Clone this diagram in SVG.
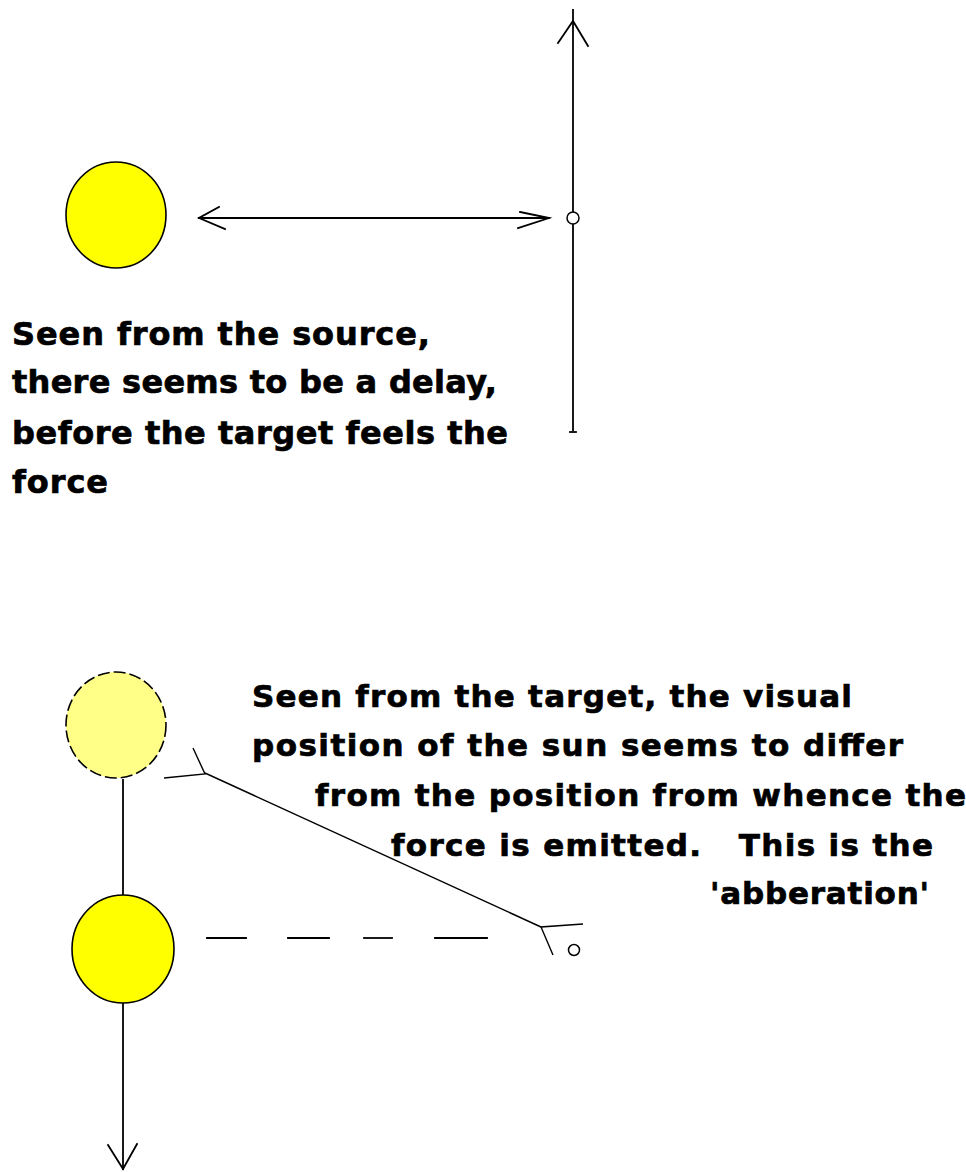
<svg xmlns="http://www.w3.org/2000/svg" width="966" height="1172" viewBox="0 0 966 1172">
  <style>
    .ln { fill: none; stroke: #000; stroke-width: 1.8; stroke-linecap: square; }
    .thin { fill: none; stroke: #000; stroke-width: 1.4; }
    .sun { fill: #FFFF00; stroke: #000; stroke-width: 1.6; }
    .ghost { fill: #FFFF88; stroke: #000; stroke-width: 1.6; stroke-dasharray: 12 4; }
    .pt { fill: #fff; stroke: #000; stroke-width: 1.5; }
    .t1 { font-family: "DejaVu Sans", "Liberation Sans", sans-serif; font-weight: bold; font-size: 32px; fill: #000; stroke: #000; stroke-width: 0.7; }
    .t2 { font-family: "DejaVu Sans", "Liberation Sans", sans-serif; font-weight: bold; font-size: 31px; fill: #000; stroke: #000; stroke-width: 0.7; white-space: pre; }
  </style>
  <rect width="966" height="1172" fill="#fff"/>

  <g id="connectors">
    <!-- top: target's vertical motion axis -->
    <line class="ln" x1="573" y1="10" x2="573" y2="430"/>
    <polyline class="ln" points="558,43 573,21 588,46"/>
    <line class="ln" x1="570" y1="432" x2="576" y2="432"/>
    <!-- top: double-headed horizontal -->
    <line class="ln" x1="199" y1="218" x2="549" y2="218"/>
    <polyline class="ln" points="219,207 199,218 225,229"/>
    <polyline class="ln" points="520,212 549,218 518,228"/>
    <!-- bottom: motion line between apparent and actual sun -->
    <line class="ln" x1="123" y1="780" x2="123" y2="895"/>
    <!-- bottom: sun motion arrow downward -->
    <line class="ln" x1="123" y1="1003" x2="123" y2="1169"/>
    <polyline class="ln" points="108,1145 123,1169 137,1144"/>
    <!-- bottom: dashed actual direction -->
    <line class="ln" x1="207" y1="938" x2="246" y2="938"/>
    <line class="ln" x1="288" y1="938" x2="329" y2="938"/>
    <line class="ln" x1="364" y1="938" x2="392" y2="938"/>
    <line class="ln" x1="435" y1="938" x2="487" y2="938"/>
    <!-- bottom: diagonal line of sight -->
    <line class="thin" x1="205" y1="773" x2="541" y2="927"/>
    <polyline class="thin" points="164,778 205,774 193,748"/>
    <polyline class="thin" points="583,924 541,927 553,955"/>
  </g>

  <g id="sun-source">
    <ellipse class="sun" cx="116" cy="215" rx="50" ry="53"/>
  </g>
  <g id="target-top">
    <circle class="pt" cx="573" cy="218" r="6"/>
  </g>

  <g id="sun-apparent">
    <ellipse class="ghost" cx="116" cy="725" rx="50" ry="53"/>
  </g>
  <g id="sun-actual">
    <ellipse class="sun" cx="123" cy="949" rx="51" ry="54"/>
  </g>
  <g id="target-bottom">
    <circle class="pt" cx="574" cy="950" r="5.5"/>
  </g>

  <g id="label-source">
    <text class="t1" x="12" y="345" textLength="418" lengthAdjust="spacing">Seen from the source,</text>
    <text class="t1" x="12" y="393" textLength="485" lengthAdjust="spacing">there seems to be a delay,</text>
    <text class="t1" x="12" y="444" textLength="496" lengthAdjust="spacing">before the target feels the</text>
    <text class="t1" x="12" y="493" textLength="96" lengthAdjust="spacing">force</text>
  </g>

  <g id="label-target">
    <text class="t2" x="252" y="707" textLength="600" lengthAdjust="spacing">Seen from the target, the visual</text>
    <text class="t2" x="252" y="756" textLength="651" lengthAdjust="spacing">position of the sun seems to differ</text>
    <text class="t2" x="315" y="806" textLength="651" lengthAdjust="spacing">from the position from whence the</text>
    <text class="t2" x="391" y="856" textLength="542" lengthAdjust="spacing" xml:space="preserve">force is emitted.   This is the</text>
    <text class="t2" x="710" y="904" textLength="219" lengthAdjust="spacing">'abberation'</text>
  </g>
</svg>
